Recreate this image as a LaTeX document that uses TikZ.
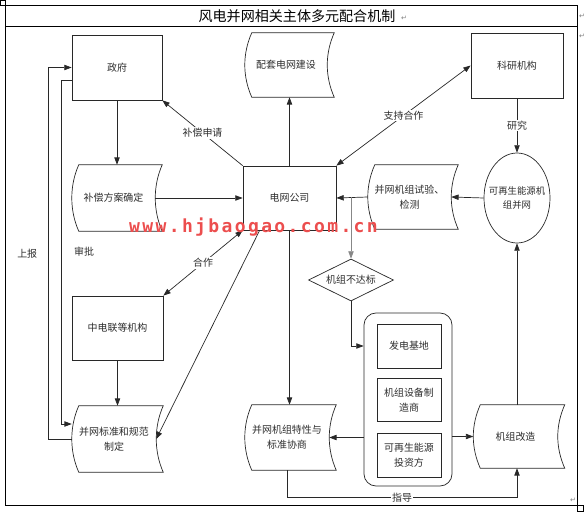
\documentclass[tikz,border=0pt]{standalone}
\usepackage{fontspec}
\setmainfont{Noto Sans CJK SC}
\newfontfamily\markfont[LetterSpace=13]{DejaVu Sans Mono}
\newfontfamily\symfont{DejaVu Sans}
\usetikzlibrary{arrows.meta,positioning,calc,shapes.geometric}
\definecolor{lineGray}{RGB}{40, 40, 40}
\definecolor{textGray}{RGB}{45, 45, 45}
\definecolor{branchGray}{RGB}{135, 135, 135}
\definecolor{markRed}{RGB}{236, 78, 78}
\newcommand\nodefont{\fontsize{8.5pt}{12.5pt}\selectfont}

\begin{document}
\begin{tikzpicture}[x=0.03cm, y=-0.03cm,
    box/.style={draw=lineGray, line width=0.6pt, text=textGray, font=\nodefont, align=center, inner sep=0pt},
    wavebox/.style={text=textGray, font=\nodefont, align=center, inner sep=0pt},
    waveline/.style={draw=lineGray, line width=0.6pt},
    arr/.style={draw=lineGray, line width=0.6pt, -{Triangle[length=0.22cm,width=0.16cm]}},
    arrboth/.style={draw=lineGray, line width=0.6pt, {Triangle[length=0.22cm,width=0.16cm]}-{Triangle[length=0.22cm,width=0.16cm]}},
    lbl/.style={fill=white, text=textGray, font=\nodefont, inner sep=1pt},
    retmark/.style={text=gray, font=\symfont\fontsize{6pt}{6pt}\selectfont, inner sep=0pt}]
    \useasboundingbox (0,0) rectangle (588,513);

    \draw[line width=0.8pt] (5,5) rectangle (577,505);
    \draw[line width=0.8pt] (5,26) -- (577,26);
    \draw[line width=0.4pt] (0,0) rectangle (5,5);
    \draw[line width=0.4pt] (577,505) rectangle (583,511);
    \node[font=\fontsize{12pt}{14pt}\selectfont] (title) at (297,16) {风电并网相关主体多元配合机制};
    \node[retmark] at (404,18) {↵};
    \node[retmark] at (582,16) {↵};
    \node[retmark] at (582,36) {↵};
    \node[retmark] at (573,500) {↵};

    \node[box, minimum width=2.7cm, minimum height=1.95cm] (gov) at (117,67.5) {政府};
    \node[wavebox, minimum width=2.46cm, minimum height=1.92cm] (gridbuild) at (286,65) {配套电网建设};
    \node[box, minimum width=2.76cm, minimum height=1.95cm] (research) at (517,65.5) {科研机构};
    \node[wavebox, minimum width=2.49cm, minimum height=1.98cm] (comp) at (113.5,198) {补偿方案确定};
    \node[box, minimum width=2.79cm, minimum height=1.92cm] (grid) at (289.5,198) {电网公司};
    \node[wavebox, minimum width=2.49cm, minimum height=1.92cm] (test) at (409.5,197) {并网机组试验、\\检测};
    \node[box, ellipse, minimum width=1.98cm, minimum height=2.7cm,
        label={[font=\fontsize{8pt}{12.5pt}\selectfont, text=textGray, align=center]center:{可再生能源机\\组并网}}] (renew) at (517,198) {};
    \node[box, diamond, minimum width=2.55cm, minimum height=1.26cm,
        label={[font=\nodefont, text=textGray]center:机组不达标}] (fail) at (351,280) {};
    \node[box, minimum width=2.73cm, minimum height=1.92cm] (cec) at (117.5,328) {中电联等机构};
    \node[wavebox, minimum width=2.52cm, minimum height=1.98cm] (std) at (114,439) {并网标准和规范\\制定};
    \node[wavebox, minimum width=2.52cm, minimum height=1.95cm] (spec) at (287,437.5) {并网机组特性与\\标准协商};
    \node[box, rounded corners=0.36cm, minimum width=2.64cm, minimum height=5.19cm] (group) at (408,399.5) {};
    \node[box, minimum width=1.92cm, minimum height=1.32cm] (base) at (409,346) {发电基地};
    \node[box, minimum width=1.92cm, minimum height=1.29cm, below=0.3cm of base] (maker) {机组设备制\\造商};
    \node[box, minimum width=1.92cm, minimum height=1.32cm, below=0.33cm of maker] (investor) {可再生能源\\投资方};
    \node[wavebox, minimum width=2.52cm, minimum height=1.89cm] (retrofit) at (515.5,436.5) {机组改造};

    \foreach \n in {gridbuild,comp,test,std,spec,retrofit}
        \draw[waveline] ($(\n.north west)+(7,0)$) -- ($(\n.north east)+(7,0)$)
            .. controls +(-9.3,21) and +(-9.3,-21) .. ($(\n.south east)+(7,0)$)
            -- ($(\n.south west)+(7,0)$)
            .. controls +(-9.3,-21) and +(-9.3,21) .. ($(\n.north west)+(7,0)$) -- cycle;

    \draw[arr] (gov.south) -- (gov.south |- comp.north);
    \draw[arr] (comp.east) -- (grid.west);
    \draw[arr] (grid.north west) -- (gov.south east) node[lbl, midway] {补偿申请};
    \draw[arr] (grid.north) -- (grid.north |- gridbuild.south);
    \draw[arrboth] (grid.north east) -- (research.west) node[lbl, midway] {支持合作};
    \draw[arr] (research.south) -- (renew.north) node[lbl, midway] {研究};
    \draw[arr] (renew.west) -- (test.east);
    \draw[arr] (test.west) -- (grid.east);
    \coordinate (split) at (fail.north |- test.west);
    \draw[arr, draw=branchGray] (split) -- (fail.north);
    \draw[arr] (fail.south) |- (group.west |- base.west);
    \draw[arrboth] (cec.north east) -- (grid.south west) node[lbl, midway] {合作};
    \draw[arr] ($(grid.south west)+(17,0)$) -- (std.east);
    \draw[arr] (cec.south) -- (cec.south |- std.north);
    \draw[arr] (grid.south) -- (grid.south |- spec.north);
    \draw[arr] (std.west) -- ++(-23,0) |- (gov.west)
        node[pos=0.25, left=0.22cm, text=textGray, font=\nodefont] {上报};
    \draw[arr] ($(gov.west)+(0,12.5)$) -- ++(-10,0) |- ($(std.west)+(0,-15)$)
        node[pos=0.25, right=0.25cm, text=textGray, font=\nodefont] {审批};
    \draw[arr] (group.west |- spec.east) -- (spec.east);
    \draw[arr] (group.east |- retrofit.west) -- (retrofit.west);
    \draw[arr] (renew.south |- retrofit.north) -- (renew.south);
    \draw[arr] (spec.south) -- ++(0,27) -| (renew.south |- retrofit.south)
        node[lbl, pos=0.25] {指导};

    \node[text=markRed, font=\markfont\bfseries\fontsize{15.4pt}{16pt}\selectfont] (watermark) at (253.5,227) {www.hjbaogao.com.cn};
\end{tikzpicture}
\end{document}
